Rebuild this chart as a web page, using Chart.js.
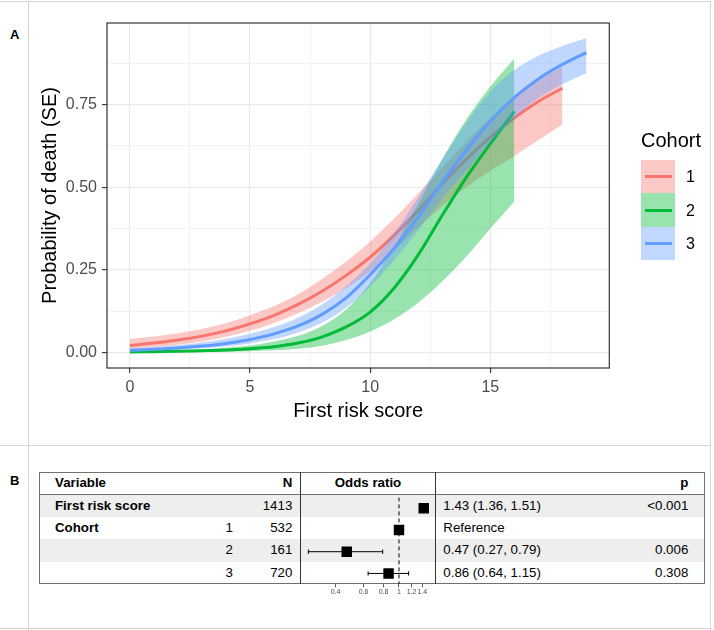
<!DOCTYPE html>
<html>
<head>
<meta charset="utf-8">
<script src="https://cdn.jsdelivr.net/npm/chart.js"></script>
<style>
  body { margin: 0; width: 714px; height: 630px; position: relative; background: #fff; overflow: hidden;
         font-family: "Liberation Sans", Arial, sans-serif; }
  .abs { position: absolute; }
  .frame { position: absolute; background: #d4d4d4; }
  .cell { position: absolute; font-size: 13.3px; line-height: 16px; color: #000; white-space: nowrap; }
  .bold { font-weight: bold; }
</style>
</head>
<body>

<!-- panel frame -->
<div class="frame" style="left:0;top:0.5px;width:711px;height:1.2px"></div>
<div class="frame" style="left:0;top:444.5px;width:711px;height:1.2px"></div>
<div class="frame" style="left:0;top:628px;width:711px;height:1.2px"></div>
<div class="frame" style="left:28px;top:0.5px;width:1.2px;height:629px"></div>
<div class="frame" style="left:709.5px;top:0.5px;width:1.2px;height:629px"></div>

<div class="abs bold" style="left:10px;top:27px;font-size:13px;line-height:16px">A</div>
<div class="abs bold" style="left:10px;top:473px;font-size:13px;line-height:16px">B</div>

<canvas id="riskChart" class="abs" width="714" height="445" style="left:0;top:0"></canvas>
<div id="legend"></div>

<div id="table"></div>
<canvas id="orChart" class="abs" width="160" height="110" style="left:290px;top:490px"></canvas>

<script>
// ---- panel A data ----
const riskScore = [0, 1, 2, 3, 4, 5, 6, 7, 8, 9, 10, 11, 12, 13, 14, 15, 16, 17, 18, 19];
const cohortNames = ['1', '2', '3'];
const cohortColors = ['#F8766D', '#00BA38', '#619CFF'];
const cohortFills = ['rgba(248,118,109,0.4)', 'rgba(0,186,56,0.4)', 'rgba(97,156,255,0.4)'];

const cohort1Fit   = [0.021, 0.028, 0.037, 0.049, 0.065, 0.086, 0.112, 0.145, 0.185, 0.233, 0.288, 0.355, 0.43, 0.51, 0.585, 0.652, 0.71, 0.76, 0.80];
const cohort1Upper = [0.040, 0.048, 0.058, 0.071, 0.088, 0.112, 0.14, 0.176, 0.222, 0.275, 0.336, 0.405, 0.482, 0.56, 0.638, 0.71, 0.772, 0.823, 0.865];
const cohort1Lower = [0.011, 0.016, 0.023, 0.033, 0.047, 0.065, 0.089, 0.118, 0.153, 0.195, 0.245, 0.31, 0.378, 0.443, 0.50, 0.55, 0.595, 0.643, 0.69];

const cohort2Fit   = [0.001, 0.002, 0.003, 0.005, 0.007, 0.011, 0.017, 0.028, 0.047, 0.077, 0.122, 0.195, 0.295, 0.415, 0.53, 0.632, 0.73];
const cohort2Upper = [0.003, 0.004, 0.006, 0.009, 0.014, 0.021, 0.033, 0.05, 0.08, 0.13, 0.21, 0.32, 0.45, 0.585, 0.705, 0.805, 0.89];
const cohort2Lower = [0, 0, 0.001, 0.001, 0.002, 0.003, 0.006, 0.011, 0.02, 0.037, 0.063, 0.10, 0.15, 0.215, 0.29, 0.375, 0.457];

const cohort3Fit   = [0.006, 0.009, 0.013, 0.019, 0.027, 0.039, 0.056, 0.08, 0.115, 0.165, 0.235, 0.315, 0.41, 0.515, 0.612, 0.70, 0.772, 0.828, 0.872, 0.908];
const cohort3Upper = [0.012, 0.016, 0.022, 0.03, 0.041, 0.056, 0.077, 0.105, 0.145, 0.2, 0.27, 0.36, 0.47, 0.585, 0.695, 0.79, 0.855, 0.898, 0.928, 0.951];
const cohort3Lower = [0.003, 0.005, 0.008, 0.012, 0.018, 0.027, 0.04, 0.06, 0.09, 0.135, 0.2, 0.28, 0.37, 0.465, 0.55, 0.635, 0.71, 0.77, 0.812, 0.845];

const xTicks = [0, 2.5, 5, 7.5, 10, 12.5, 15, 17.5];
const yTicks = [0, 0.125, 0.25, 0.375, 0.5, 0.625, 0.75, 0.875];

// ---- panel B data ----
const tableVariables = ['First risk score', 'Cohort', '', ''];
const tableLevels = ['', '1', '2', '3'];
const tableN = [1413, 532, 161, 720];
const orValues = [1.43, 1, 0.47, 0.86];
const orLower = [1.36, null, 0.27, 0.64];
const orUpper = [1.51, null, 0.79, 1.15];
const orText = ['1.43 (1.36, 1.51)', 'Reference', '0.47 (0.27, 0.79)', '0.86 (0.64, 1.15)'];
const pText = ['<0.001', '', '0.006', '0.308'];
const orTicks = [0.4, 0.6, 0.8, 1, 1.2, 1.4];

const FONT = '"Liberation Sans", Arial, sans-serif';

function pts(ys) { return ys.map((v, i) => ({ x: riskScore[i], y: v })); }

const fits = [cohort1Fit, cohort2Fit, cohort3Fit];
const uppers = [cohort1Upper, cohort2Upper, cohort3Upper];
const lowers = [cohort1Lower, cohort2Lower, cohort3Lower];

// ribbon then line for each cohort, later cohorts on top
const riskSets = [];
let ord = 9;
for (let g = 0; g < 3; g++) {
  riskSets.push({ data: pts(uppers[g]), borderWidth: 0, pointRadius: 0, fill: '+1',
                  backgroundColor: cohortFills[g], cubicInterpolationMode: 'monotone', order: ord-- });
  riskSets.push({ data: pts(lowers[g]), borderWidth: 0, pointRadius: 0, fill: false,
                  cubicInterpolationMode: 'monotone', order: ord-- });
  riskSets.push({ label: cohortNames[g], data: pts(fits[g]), borderColor: cohortColors[g], borderWidth: 3,
                  pointRadius: 0, fill: false, cubicInterpolationMode: 'monotone', order: ord-- });
}

const panelBorder = {
  id: 'panelBorder',
  afterDraw(chart) {
    const a = chart.chartArea, c = chart.ctx;
    c.save();
    c.strokeStyle = '#333';
    c.lineWidth = 1.2;
    c.strokeRect(a.left, a.top, a.right - a.left, a.bottom - a.top);
    c.restore();
  }
};

const isQuarter = v => Math.abs(v * 4 - Math.round(v * 4)) < 1e-6;

new Chart(document.getElementById('riskChart'), {
  type: 'line',
  data: { datasets: riskSets },
  plugins: [panelBorder],
  options: {
    responsive: false,
    animation: false,
    layout: { padding: { top: 23, right: 104.7, left: 0, bottom: 0 } },
    plugins: { legend: { display: false }, tooltip: { enabled: false } },
    scales: {
      x: {
        type: 'linear', min: -0.95, max: 19.95,
        afterBuildTicks: s => { s.ticks = xTicks.map(v => ({ value: v })); },
        afterFit: s => { s.height = 77; },
        border: { display: false },
        grid: {
          color: '#EBEBEB',
          lineWidth: c => (c.tick && c.tick.value % 5 === 0) ? 1.2 : 0.6,
          tickColor: c => (c.tick && c.tick.value % 5 === 0) ? '#333' : 'rgba(0,0,0,0)',
          tickLength: 5, tickWidth: 1.1
        },
        ticks: {
          autoSkip: false, maxRotation: 0, padding: 5, color: '#4D4D4D',
          font: { family: FONT, size: 16 },
          callback: v => (v % 5 === 0 ? String(v) : '')
        },
        title: { display: true, text: 'First risk score', color: '#000',
                 font: { family: FONT, size: 20 }, padding: { top: 0, bottom: 22 } }
      },
      y: {
        type: 'linear', min: -0.0475, max: 0.9975,
        afterBuildTicks: s => { s.ticks = yTicks.map(v => ({ value: v })); },
        afterFit: s => { s.width = 107; },
        border: { display: false },
        grid: {
          color: '#EBEBEB',
          lineWidth: c => (c.tick && isQuarter(c.tick.value)) ? 1.2 : 0.6,
          tickColor: c => (c.tick && isQuarter(c.tick.value)) ? '#333' : 'rgba(0,0,0,0)',
          tickLength: 5, tickWidth: 1.1
        },
        ticks: {
          autoSkip: false, padding: 5, color: '#4D4D4D',
          font: { family: FONT, size: 16 },
          callback: v => (isQuarter(v) ? v.toFixed(2) : '')
        },
        title: { display: true, text: 'Probability of death (SE)', color: '#000',
                 font: { family: FONT, size: 20 }, padding: { top: 38, bottom: 0 } }
      }
    }
  }
});

// legend for panel A
const legend = document.getElementById('legend');
let lh = '<div class="abs" style="left:641px;top:128px;font-size:20px;line-height:24px">Cohort</div>';
cohortNames.forEach((name, i) => {
  const top = 160 + i * 33.4;
  lh += '<div class="abs" style="left:641px;top:' + top + 'px;width:34px;height:33.4px;background:' + cohortFills[i] + '"></div>';
  lh += '<div class="abs" style="left:645px;top:' + (top + 15.2) + 'px;width:26.7px;height:3px;background:' + cohortColors[i] + '"></div>';
  lh += '<div class="abs" style="left:686px;top:' + (top + 7.2) + 'px;font-size:16px;line-height:19px">' + name + '</div>';
});
legend.innerHTML = lh;

// ---- panel B table ----
const T = { left: 39.3, right: 705, top: 471.7, head: 494.3, row: 22.45, divA: 300.7, divB: 435.3 };
let th = '';
for (let r = 0; r < 4; r++) {
  if (r % 2 === 0) {
    th += '<div class="abs" style="left:' + T.left + 'px;top:' + (T.head + r * T.row) + 'px;width:' + (T.right - T.left) +
          'px;height:' + T.row + 'px;background:#EEEEEE"></div>';
  }
}
const tBottom = T.head + 4 * T.row;
th += '<div class="abs" style="left:' + T.left + 'px;top:' + T.top + 'px;width:' + (T.right - T.left) + 'px;height:' +
      (tBottom - T.top) + 'px;box-sizing:border-box;border:1.2px solid #707070"></div>';
th += '<div class="abs" style="left:' + T.left + 'px;top:' + (T.head - 0.6) + 'px;width:' + (T.right - T.left) + 'px;height:1.2px;background:#707070"></div>';
th += '<div class="abs" style="left:' + (T.divA - 0.6) + 'px;top:' + T.top + 'px;width:1.2px;height:' + (tBottom - T.top) + 'px;background:#333"></div>';
th += '<div class="abs" style="left:' + (T.divB - 0.6) + 'px;top:' + T.top + 'px;width:1.2px;height:' + (tBottom - T.top) + 'px;background:#333"></div>';

function cellText(text, cls, y, x, align) {
  let pos;
  if (align === 'left') pos = 'left:' + x + 'px;';
  else if (align === 'right') pos = 'right:' + (714 - x) + 'px;';
  else pos = 'left:' + (x - 100) + 'px;width:200px;text-align:center;';
  return '<div class="cell ' + cls + '" style="' + pos + 'top:' + (y - 8) + 'px">' + text + '</div>';
}
const headY = (T.top + T.head) / 2;
th += cellText('Variable', 'bold', headY, 55, 'left');
th += cellText('N', 'bold', headY, 292.3, 'right');
th += cellText('Odds ratio', 'bold', headY, (T.divA + T.divB) / 2, 'center');
th += cellText('p', 'bold', headY, 688.3, 'right');
for (let r = 0; r < 4; r++) {
  const y = T.head + (r + 0.5) * T.row;
  if (tableVariables[r]) th += cellText(tableVariables[r], 'bold', y, 55, 'left');
  if (tableLevels[r]) th += cellText(tableLevels[r], '', y, 229.3, 'center');
  th += cellText(String(tableN[r]), '', y, 292.3, 'right');
  th += cellText(orText[r], '', y, 443.3, 'left');
  if (pText[r]) th += cellText(pText[r].replace('<', '&lt;'), '', y, 688.3, 'right');
}
document.getElementById('table').innerHTML = th;

// forest plot
const forestSets = [];
forestSets.push({ data: [{ x: 1, y: -0.5 }, { x: 1, y: 3.5 }], showLine: true, borderColor: '#000',
                  borderWidth: 1, borderDash: [4, 3], pointRadius: 0, order: 3 });
orValues.forEach((v, r) => {
  if (orLower[r] !== null) {
    forestSets.push({ data: [{ x: orLower[r], y: r }, { x: orUpper[r], y: r }], showLine: true,
                      borderColor: '#000', borderWidth: 1, pointStyle: 'line', rotation: 90,
                      pointRadius: 2.2, pointBorderColor: '#000', pointBorderWidth: 1, order: 2 });
  }
});
forestSets.push({ data: orValues.map((v, r) => ({ x: v, y: r })), pointStyle: 'rect', pointRadius: 7.4,
                  backgroundColor: '#000', borderColor: '#000', borderWidth: 0, order: 1 });

new Chart(document.getElementById('orChart'), {
  type: 'scatter',
  data: { datasets: forestSets },
  options: {
    responsive: false,
    animation: false,
    layout: { padding: { left: 10.7, right: 14.7, top: 4.3, bottom: 0 } },
    plugins: { legend: { display: false }, tooltip: { enabled: false } },
    scales: {
      x: {
        type: 'logarithmic', min: 0.2416, max: 1.69,
        afterBuildTicks: s => { s.ticks = orTicks.map(v => ({ value: v })); },
        afterFit: s => { s.height = 15.7; },
        border: { display: false },
        grid: { drawOnChartArea: false, drawTicks: true, tickLength: 3, tickColor: '#333', tickWidth: 0.8 },
        ticks: { autoSkip: false, maxRotation: 0, padding: 1, color: '#4D4D4D',
                 font: { family: FONT, size: 7 }, callback: v => String(v) }
      },
      y: { type: 'linear', reverse: true, min: -0.5, max: 3.5, display: false }
    }
  }
});
</script>
</body>
</html>
